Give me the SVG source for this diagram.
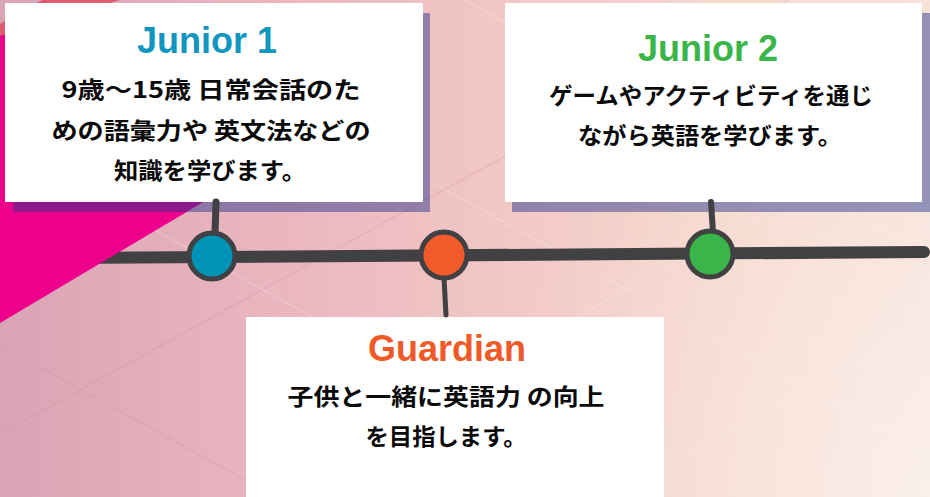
<svg xmlns="http://www.w3.org/2000/svg" width="930" height="497" viewBox="0 0 930 497">
  <defs>
    <linearGradient id="bg" x1="0" y1="0" x2="1" y2="0">
      <stop offset="0" stop-color="#d9a5b5"/>
      <stop offset="0.3" stop-color="#eab6bf"/>
      <stop offset="0.55" stop-color="#f2c8c5"/>
      <stop offset="0.8" stop-color="#f6d9cd"/>
      <stop offset="1" stop-color="#f7e2d9"/>
    </linearGradient>
    <radialGradient id="glow" cx="930" cy="497" r="450" gradientUnits="userSpaceOnUse">
      <stop offset="0" stop-color="#ffffff" stop-opacity="0.45"/>
      <stop offset="1" stop-color="#ffffff" stop-opacity="0"/>
    </radialGradient>
    <style>
      .grid { stroke: #ffffff; stroke-width: 1; stroke-opacity: 0.4; stroke-dasharray: 2 1; fill: none; }
      .gridp { stroke: #c98a9e; stroke-width: 0.8; stroke-opacity: 0.45; fill: none; }
      .shadow { fill: rgb(42,54,142); fill-opacity: 0.48; }
      .box { fill: #ffffff; }
      .title { font-family: "Liberation Sans", Arial, sans-serif; font-weight: bold; font-size: 36px; text-anchor: middle; }
      .body { font-family: "Noto Sans CJK JP", "Noto Sans CJK SC", sans-serif; font-weight: bold; font-size: 23px; fill: #0a0a0a; text-anchor: middle; }
      .conn { stroke: #414042; fill: none; stroke-linecap: round; }
      .dot { stroke: #414042; stroke-width: 5; }
    </style>
  </defs>

  <!-- background -->
  <rect x="0" y="0" width="930" height="497" fill="url(#bg)"/>
  <rect x="0" y="0" width="930" height="497" fill="url(#glow)"/>

  <!-- faint diagonal lattice -->
  <g id="lattice">
    <line class="grid" x1="464" y1="0" x2="930" y2="256"/>
    <line class="grid" x1="100" y1="0" x2="930" y2="456"/>
    <line class="grid" x1="0" y1="145" x2="640" y2="497"/>
    <line class="gridp" x1="0" y1="345" x2="276" y2="497"/>
    <line class="grid" x1="0" y1="234" x2="425" y2="0"/>
    <line class="gridp" x1="0" y1="434" x2="789" y2="0"/>
    <line class="grid" x1="250" y1="497" x2="930" y2="122"/>
    <line class="grid" x1="610" y1="497" x2="930" y2="322"/>
  </g>

  <!-- timeline line (behind triangle) -->
  <g id="connectors">
    <line class="conn" x1="60" y1="258" x2="924" y2="252" stroke-width="12"/>
  </g>

  <!-- decorative triangle -->
  <polygon points="0,34 0,323 400,85 150,8" fill="#ec008c"/>
  <polygon points="0,24 42,0 120,0 0,36" fill="#e05a72"/>

  <!-- Junior 1 -->
  <g id="junior1">
    <rect class="shadow" x="13" y="13" width="417" height="199"/>
    <rect class="box" x="5" y="3" width="418" height="199"/>
    <text class="title" x="207" y="53" fill="#1196bf">Junior 1</text>
    <text class="body" x="211" y="98" textLength="299" lengthAdjust="spacingAndGlyphs">9歳～15歳 日常会話のた</text>
    <text class="body" x="211" y="139" textLength="319" lengthAdjust="spacingAndGlyphs">めの語彙力や 英文法などの</text>
    <text class="body" x="210" y="179" textLength="192" lengthAdjust="spacingAndGlyphs">知識を学びます。</text>
  </g>

  <!-- Junior 2 -->
  <g id="junior2">
    <rect class="shadow" x="512" y="13" width="418" height="199"/>
    <rect class="box" x="505" y="3" width="417" height="199"/>
    <text class="title" x="708" y="61" fill="#39b54a">Junior 2</text>
    <text class="body" x="711" y="104" textLength="324" lengthAdjust="spacingAndGlyphs">ゲームやアクティビティを通じ</text>
    <text class="body" x="710" y="144" textLength="264" lengthAdjust="spacingAndGlyphs">ながら英語を学びます。</text>
  </g>

  <!-- Guardian -->
  <g id="guardian">
    <rect class="box" x="246" y="317" width="418" height="180"/>
    <text class="title" x="447" y="361" fill="#f05a28">Guardian</text>
    <text class="body" x="446" y="405" textLength="317" lengthAdjust="spacingAndGlyphs">子供と一緒に英語力 の向上</text>
    <text class="body" x="446" y="445" textLength="161" lengthAdjust="spacingAndGlyphs">を目指します。</text>
  </g>

  <!-- connector stems -->
  <g id="stems">
    <line class="conn" x1="216" y1="202" x2="215" y2="234" stroke-width="7" stroke-linecap="butt"/>
    <line class="conn" x1="444" y1="278" x2="446" y2="315" stroke-width="5"/>
    <line class="conn" x1="711" y1="202" x2="713" y2="232" stroke-width="6" stroke-linecap="butt"/>
  </g>

  <!-- timeline nodes -->
  <g id="node-blue"><circle class="dot" cx="212" cy="256" r="23" fill="#0093b8"/></g>
  <g id="node-orange"><circle class="dot" cx="444" cy="255" r="23" fill="#f15a2b"/></g>
  <g id="node-green"><circle class="dot" cx="710" cy="254" r="23" fill="#39b54a"/></g>
</svg>
